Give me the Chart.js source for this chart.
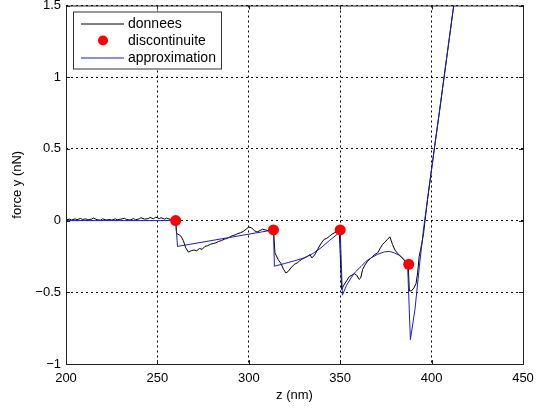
<!DOCTYPE html>
<html>
<head>
<meta charset="utf-8">
<script src="https://cdn.jsdelivr.net/npm/chart.js@4/dist/chart.umd.min.js"></script>
<style>
  body { margin: 0; background: #fff; }
  canvas { display: block; }
</style>
</head>
<body>
<canvas id="myChart" width="542" height="412"></canvas>
<script>
// donnees (measured force curve)
const dataZ = [
  200, 202, 203, 205, 206, 208, 209, 211, 212, 214, 215, 217, 219, 220, 222, 224, 225, 227, 228, 230,
  232, 233, 235, 237, 238, 240, 241, 243, 245, 246, 248, 249, 251, 252, 254, 255, 257, 258, 260,
  260.5, 262, 263, 264.2, 265.5, 267, 268.5, 270, 271.5, 273, 274.5, 276, 277.5, 279, 280.5, 282,
  283.5, 285, 286.5, 288, 289.5, 291, 292.5, 294, 295.5, 297, 298.5, 300, 301.5, 303, 304.5, 306,
  307.5, 309, 310.5, 312, 313.5,
  314.3, 316, 317.6, 319, 320.3, 321.5, 323, 324.9, 326.5, 327.6, 329, 330.4, 332, 333.5, 334.5,
  336, 337.7, 339, 340, 341.3, 342.5, 344, 345.5, 346.8, 348, 349.5,
  350.8, 352, 353.5, 355, 356.5, 357.7, 359, 360.4, 361.2, 362.3, 363.5, 365, 366.5, 367.7, 369,
  370.5, 372, 373.2, 374.5, 375.9, 377.2, 378.6, 380, 381.5, 383.2, 384.5, 385.9, 387.3, 387.8,
  389, 390.3, 391.5, 392.4, 393.2, 394, 394.8, 395.6, 396.4, 398, 400, 402, 404, 406, 408, 410, 412, 414
]
const dataF = [
  0.005, 0.01, 0.004, 0.012, 0.006, 0.015, 0.008, 0.012, 0.005, 0.01, 0.018, 0.006, 0.003, 0.012, 0.004, 0.008, 0.003, 0.012, 0.006, 0.01,
  0.016, 0.008, 0.004, 0.014, 0.006, 0.012, 0.02, 0.01, 0.014, 0.022, 0.012, 0.025, 0.014, 0.02, 0.01, 0.018, 0.008, 0.012, 0.004,
  -0.09, -0.1, -0.11, -0.14, -0.19, -0.22, -0.21, -0.205, -0.21, -0.195, -0.2, -0.18, -0.175, -0.165, -0.16, -0.155,
  -0.145, -0.14, -0.13, -0.125, -0.115, -0.105, -0.1, -0.09, -0.085, -0.075, -0.06, -0.045, -0.05, -0.07, -0.08, -0.07,
  -0.06, -0.065, -0.07, -0.075, -0.07,
  -0.225, -0.27, -0.3, -0.34, -0.365, -0.355, -0.33, -0.305, -0.295, -0.283, -0.27, -0.26, -0.25, -0.238, -0.26,
  -0.24, -0.2, -0.17, -0.15, -0.13, -0.125, -0.11, -0.095, -0.085, -0.08, -0.07,
  -0.48, -0.45, -0.42, -0.39, -0.38, -0.37, -0.38, -0.41, -0.4, -0.34, -0.31, -0.283, -0.265, -0.25, -0.235,
  -0.225, -0.19, -0.166, -0.15, -0.13, -0.113, -0.166, -0.206, -0.23, -0.25, -0.27, -0.29, -0.33, -0.49,
  -0.49, -0.47, -0.44, -0.36, -0.25, -0.2, -0.15, -0.09, 0.0, 0.17, 0.36, 0.55, 0.73, 0.92, 1.11, 1.3, 1.49, 1.68
]

// discontinuite
const jumpZ = [260, 313.5, 350, 387.5]
const jumpF = [0, -0.065, -0.065, -0.305]

// approximation
const fitZ = [
  200, 260, 261, 313.5, 314, 319.4, 325, 330.4, 335, 339.5, 344, 348.6, 350,
  351.2, 353.5, 355.9, 358.5, 361.4, 364, 366.9, 370.5, 374.1, 377, 379.6, 382, 384.1, 385.8, 386.9,
  388.4, 390.9, 393.3, 395.5, 396.2, 401.5, 406.8, 412.1, 414
]
const fitF = [
  0, 0, -0.18, -0.065, -0.318, -0.3, -0.28, -0.26, -0.23, -0.19, -0.14, -0.093, -0.07,
  -0.52, -0.45, -0.4, -0.355, -0.32, -0.285, -0.26, -0.235, -0.218, -0.215, -0.225, -0.24, -0.26, -0.285, -0.318,
  -0.83, -0.62, -0.32, -0.07, 0, 0.5, 1.0, 1.5, 1.68
]

const xTicks = [200, 250, 300, 350, 400, 450]
const yTicks = [-1, -0.5, 0, 0.5, 1, 1.5]

const FONT = 'Liberation Sans, Arial, Helvetica, sans-serif'
const BLUE = '#1c1ccf'

const pts = (xs, ys) => xs.map((x, i) => ({ x, y: ys[i] }))
const minus = v => String(v).replace('-', '\u2212')

// matlab style box, inward ticks and legend
const matlabBox = {
  id: 'matlabBox',
  afterDraw(chart) {
    const { ctx, chartArea: a, scales } = chart
    ctx.save()
    ctx.strokeStyle = '#222'
    ctx.lineWidth = 1
    ctx.strokeRect(a.left + 0.5, a.top + 0.5, a.right - a.left, a.bottom - a.top)
    ctx.beginPath()
    xTicks.forEach(t => {
      const px = Math.round(scales.x.getPixelForValue(t)) + 0.5
      ctx.moveTo(px, a.bottom); ctx.lineTo(px, a.bottom - 4)
      ctx.moveTo(px, a.top); ctx.lineTo(px, a.top + 4)
    })
    yTicks.forEach(t => {
      const py = Math.round(scales.y.getPixelForValue(t)) + 0.5
      ctx.moveTo(a.left, py); ctx.lineTo(a.left + 4, py)
      ctx.moveTo(a.right, py); ctx.lineTo(a.right - 4, py)
    })
    ctx.stroke()

    // legend
    const lx = a.left + 7, ly = a.top + 6
    ctx.fillStyle = '#fff'
    ctx.fillRect(lx, ly, 148, 57)
    ctx.strokeStyle = '#333'
    ctx.strokeRect(lx + 0.5, ly + 0.5, 148, 57)
    ctx.font = '14px ' + FONT
    ctx.textBaseline = 'middle'
    chart.data.datasets.forEach((ds, i) => {
      const cy = ly + 12 + i * 17
      if (ds.showLine) {
        ctx.strokeStyle = ds.borderColor
        ctx.lineWidth = 1
        ctx.beginPath()
        ctx.moveTo(lx + 8, cy + 0.5); ctx.lineTo(lx + 51, cy + 0.5)
        ctx.stroke()
      } else {
        ctx.fillStyle = ds.pointBackgroundColor
        ctx.beginPath()
        ctx.arc(lx + 30, cy, 5, 0, Math.PI * 2)
        ctx.fill()
      }
      ctx.fillStyle = '#000'
      ctx.fillText(ds.label, lx + 55, cy + 1)
    })
    ctx.restore()
  }
}

const ctx = document.getElementById('myChart')
const myChart = new Chart(ctx, {
  type: 'scatter',
  data: {
    datasets: [{
      label: 'donnees',
      data: pts(dataZ, dataF),
      showLine: true,
      borderColor: '#000',
      borderWidth: 1,
      pointRadius: 0,
      order: 3
    }, {
      label: 'discontinuite',
      data: pts(jumpZ, jumpF),
      showLine: false,
      pointRadius: 5.5,
      pointBackgroundColor: '#ff0000',
      pointBorderWidth: 0,
      order: 1
    }, {
      label: 'approximation',
      data: pts(fitZ, fitF),
      showLine: true,
      borderColor: BLUE,
      borderWidth: 1,
      pointRadius: 0,
      order: 2
    }]
  },
  options: {
    responsive: false,
    animation: false,
    devicePixelRatio: 1,
    layout: { padding: { top: 5, right: 19, bottom: 0, left: 0 } },
    plugins: {
      legend: { display: false },
      tooltip: { enabled: false }
    },
    scales: {
      x: {
        type: 'linear',
        min: 200,
        max: 450,
        afterFit: s => { s.height = 48; s.paddingLeft = 0; s.paddingRight = 0 },
        afterBuildTicks: s => { s.ticks = xTicks.map(value => ({ value })) },
        grid: { color: '#000', lineWidth: 1, drawTicks: false },
        border: { display: false, dash: [2, 3] },
        ticks: { color: '#000', padding: 7, maxRotation: 0, font: { family: FONT, size: 13 }, callback: minus },
        title: { display: true, text: 'z (nm)', color: '#000', font: { family: FONT, size: 13 }, padding: { top: 0, bottom: 9 } }
      },
      y: {
        type: 'linear',
        min: -1,
        max: 1.5,
        afterFit: s => { s.width = 66; s.paddingTop = 0; s.paddingBottom = 0 },
        afterBuildTicks: s => { s.ticks = yTicks.map(value => ({ value })) },
        grid: { color: '#000', lineWidth: 1, drawTicks: false },
        border: { display: false, dash: [2, 3] },
        ticks: { color: '#000', padding: 5, font: { family: FONT, size: 13 }, callback: minus },
        title: { display: true, text: 'force y (nN)', color: '#000', font: { family: FONT, size: 13 }, padding: { top: 10, bottom: 0 } }
      }
    }
  },
  plugins: [matlabBox]
})
</script>
</body>
</html>
